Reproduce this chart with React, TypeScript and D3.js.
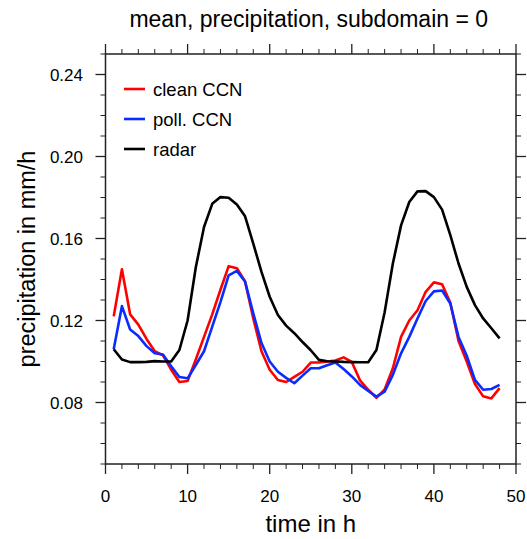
import React from 'react';
import * as d3 from 'd3';

const hours = [1, 2, 3, 4, 5, 6, 7, 8, 9, 10, 11, 12, 13, 14, 15, 16, 17, 18, 19, 20, 21, 22, 23, 24,
  25, 26, 27, 28, 29, 30, 31, 32, 33, 34, 35, 36, 37, 38, 39, 40, 41, 42, 43, 44, 45, 46, 47, 48];

const cleanCCN = [0.122, 0.145, 0.123, 0.118, 0.111, 0.105, 0.103, 0.096, 0.090, 0.0905, 0.101, 0.112,
  0.123, 0.135, 0.1465, 0.1455, 0.139, 0.121, 0.105, 0.096, 0.091, 0.090, 0.0925, 0.095,
  0.0995, 0.0995, 0.100, 0.1005, 0.102, 0.0998, 0.0908, 0.0862, 0.0823, 0.0864, 0.0967, 0.112,
  0.120, 0.125, 0.134, 0.1386, 0.1377, 0.1287, 0.110, 0.100, 0.089, 0.083, 0.082, 0.087];

const pollCCN = [0.106, 0.127, 0.1156, 0.1124, 0.1075, 0.104, 0.1034, 0.0977, 0.0924, 0.0918, 0.0983, 0.105,
  0.117, 0.129, 0.142, 0.1442, 0.139, 0.1235, 0.109, 0.100, 0.095, 0.092, 0.0894, 0.0931,
  0.0967, 0.0967, 0.0982, 0.0995, 0.0963, 0.0927, 0.0886, 0.0856, 0.0829, 0.0853, 0.0935, 0.104,
  0.112, 0.121, 0.1295, 0.1342, 0.1346, 0.1283, 0.112, 0.1028, 0.091, 0.0862, 0.0866, 0.0886];

const radar = [0.106, 0.101, 0.0997, 0.0997, 0.0998, 0.1002, 0.100, 0.100, 0.1056, 0.120, 0.146, 0.1656,
  0.1769, 0.1802, 0.1799, 0.1766, 0.1708, 0.1575, 0.1437, 0.1316, 0.1227, 0.1175, 0.1138, 0.1095,
  0.1055, 0.1008, 0.1001, 0.100, 0.0998, 0.0997, 0.0996, 0.0996, 0.1056, 0.124, 0.1478, 0.1664,
  0.1778, 0.183, 0.1831, 0.1802, 0.1741, 0.1616, 0.1478, 0.1364, 0.1275, 0.121, 0.1162, 0.1113];

const seriesNames = ['clean CCN', 'poll. CCN', 'radar'];
const seriesColors = ['#ff0000', '#0a2cff', '#000000'];
const xMajorTicks = [0, 10, 20, 30, 40, 50];
const xMinorTicks = [2, 4, 6, 8, 12, 14, 16, 18, 22, 24, 26, 28, 32, 34, 36, 38, 42, 44, 46, 48];
const yMajorTicks = [0.08, 0.12, 0.16, 0.2, 0.24];
const yMinorTicks = [0.05, 0.06, 0.07, 0.09, 0.1, 0.11, 0.13, 0.14, 0.15, 0.17, 0.18, 0.19, 0.21, 0.22, 0.23, 0.25];
const titleText = 'mean, precipitation, subdomain = 0';
const xTitle = 'time in h';
const yTitle = 'precipitation in mm/h';

const W = 527;
const H = 539;
const L = 105.5;
const R = 516;
const T = 54;
const B = 464;
const FONT = '"Liberation Sans", Arial, Helvetica, sans-serif';

export default function App() {
  const x = d3.scaleLinear().domain([0, 50]).range([L, R]);
  const y = d3.scaleLinear().domain([0.05, 0.25]).range([B, T]);
  const data = [cleanCCN, pollCCN, radar];
  const line = d3.line<number>().x((_, i) => x(hours[i])).y((d) => y(d));
  const majorLen = 10;
  const minorLen = 5;
  const axisColor = '#222';

  return (
    <svg width={W} height={H} style={{ position: 'absolute', left: 0, top: 0, background: '#fff' }}>
      <rect x={0} y={0} width={W} height={H} fill="#fff" />
      <text x={(L + R) / 2 - 2} y={27} textAnchor="middle" fontFamily={FONT} fontSize={23} fill="#000">{titleText}</text>

      {data.map((s, i) => (
        <path key={i} d={line(s) || ''} fill="none" stroke={seriesColors[i]} strokeWidth={2.6} strokeLinejoin="round" />
      ))}

      <rect x={L} y={T} width={R - L} height={B - T} fill="none" stroke={axisColor} strokeWidth={1.5} />

      {xMajorTicks.map((t) => (
        <g key={'xM' + t}>
          <line x1={x(t)} x2={x(t)} y1={B} y2={B + majorLen} stroke={axisColor} strokeWidth={1.3} />
          <line x1={x(t)} x2={x(t)} y1={T} y2={T - majorLen} stroke={axisColor} strokeWidth={1.3} />
          <text x={x(t)} y={502} textAnchor="middle" fontFamily={FONT} fontSize={17} fill="#000">{t}</text>
        </g>
      ))}
      {xMinorTicks.map((t) => (
        <g key={'xm' + t}>
          <line x1={x(t)} x2={x(t)} y1={B} y2={B + minorLen} stroke={axisColor} strokeWidth={1} />
          <line x1={x(t)} x2={x(t)} y1={T} y2={T - minorLen} stroke={axisColor} strokeWidth={1} />
        </g>
      ))}
      {yMajorTicks.map((t) => (
        <g key={'yM' + t}>
          <line x1={L} x2={L - majorLen} y1={y(t)} y2={y(t)} stroke={axisColor} strokeWidth={1.3} />
          <line x1={R} x2={R + majorLen} y1={y(t)} y2={y(t)} stroke={axisColor} strokeWidth={1.3} />
          <text x={83} y={y(t) + 6} textAnchor="end" fontFamily={FONT} fontSize={17} fill="#000">{d3.format('.2f')(t)}</text>
        </g>
      ))}
      {yMinorTicks.map((t) => (
        <g key={'ym' + t}>
          <line x1={L} x2={L - minorLen} y1={y(t)} y2={y(t)} stroke={axisColor} strokeWidth={1} />
          <line x1={R} x2={R + minorLen} y1={y(t)} y2={y(t)} stroke={axisColor} strokeWidth={1} />
        </g>
      ))}

      <text x={(L + R) / 2} y={532} textAnchor="middle" fontFamily={FONT} fontSize={24} fill="#000">{xTitle}</text>
      <text transform={`translate(35, ${(T + B) / 2}) rotate(-90)`} textAnchor="middle" fontFamily={FONT} fontSize={23.5} fill="#000">{yTitle}</text>

      {seriesNames.map((n, i) => {
        const ly = 89 + i * 30;
        return (
          <g key={n}>
            <line x1={124} x2={145} y1={ly} y2={ly} stroke={seriesColors[i]} strokeWidth={2.6} />
            <text x={153} y={ly + 6.5} fontFamily={FONT} fontSize={18.5} fill="#000">{n}</text>
          </g>
        );
      })}
    </svg>
  );
}
